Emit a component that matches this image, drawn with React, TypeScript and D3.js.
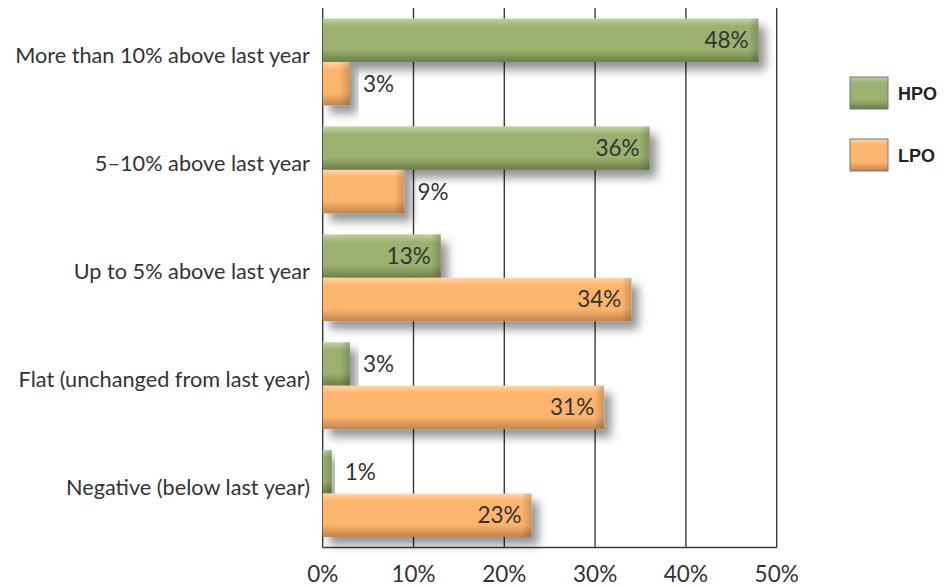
import React from "react";
import * as d3 from "d3";

const categories = [
  "More than 10% above last year",
  "5–10% above last year",
  "Up to 5% above last year",
  "Flat (unchanged from last year)",
  "Negative (below last year)",
];
const seriesNames = ["HPO", "LPO"];
const hpoValues = [48, 36, 13, 3, 1];
const lpoValues = [3, 9, 34, 31, 23];
const xTicks = [0, 10, 20, 30, 40, 50];

const W = 946;
const H = 587;
const M = { left: 322.7, right: 946 - 776.7, top: 8, bottom: 587 - 547.5 };

const palettes = {
  HPO: { light: "#c3d1a3", main: "#9cb070", dark: "#6c7d47" },
  LPO: { light: "#fed5aa", main: "#fdb46c", dark: "#c0844e" },
};

export default function App() {
  const x = d3.scaleLinear().domain([0, 50]).range([M.left, W - M.right]);
  const y = d3
    .scaleBand<string>()
    .domain(categories)
    .range([M.top, H - M.bottom])
    .paddingInner(0.195)
    .paddingOuter(0.0975);
  const inner = d3
    .scaleBand<string>()
    .domain(seriesNames)
    .range([0, y.bandwidth()])
    .padding(0);

  const data = categories.map((c, i) => ({
    cat: c,
    vals: [
      { s: "HPO", v: hpoValues[i] },
      { s: "LPO", v: lpoValues[i] },
    ],
  }));

  const font = "Lato, Roboto, sans-serif";
  const textColor = "#333";

  return (
    <svg
      width={W}
      height={H}
      style={{ position: "absolute", left: 0, top: 0, background: "#fff" }}
    >
      <defs>
        <filter id="shadow" x="-10%" y="-40%" width="140%" height="200%">
          <feDropShadow dx="7" dy="8" stdDeviation="5" floodColor="#000" floodOpacity="0.42" />
        </filter>
        {seriesNames.map((s) => {
          const p = (palettes as any)[s];
          return (
            <linearGradient key={s} id={`grad-${s}`} x1="0" y1="0" x2="0" y2="1">
              <stop offset="0%" stopColor={p.light} />
              <stop offset="18%" stopColor={p.main} />
              <stop offset="72%" stopColor={p.main} />
              <stop offset="100%" stopColor={p.dark} />
            </linearGradient>
          );
        })}
        <linearGradient id="endShade" x1="0" y1="0" x2="1" y2="0">
          <stop offset="0%" stopColor="#000" stopOpacity="0" />
          <stop offset="100%" stopColor="#000" stopOpacity="0.18" />
        </linearGradient>
      </defs>

      {/* gridlines */}
      {xTicks.map((t) => (
        <line
          key={t}
          x1={x(t)}
          x2={x(t)}
          y1={M.top}
          y2={H - M.bottom}
          stroke="#3a3a3a"
          strokeWidth={1.4}
        />
      ))}
      <line
        x1={x(0)}
        x2={x(50)}
        y1={H - M.bottom}
        y2={H - M.bottom}
        stroke="#3a3a3a"
        strokeWidth={1.4}
      />

      {/* tick labels */}
      {xTicks.map((t) => (
        <text
          key={t}
          x={x(t)}
          y={582}
          textAnchor="middle"
          fontFamily={font}
          fontSize={22.5}
          fill={textColor}
        >
          {t}%
        </text>
      ))}

      {/* bars */}
      {data.map((d) => (
        <g key={d.cat} transform={`translate(0,${y(d.cat)})`}>
          {d.vals.map((b) => {
            const by = inner(b.s)!;
            const bh = inner.bandwidth();
            const bw = x(b.v) - x(0);
            return (
              <g key={b.s}>
                <rect
                  x={x(0)}
                  y={by}
                  width={bw}
                  height={bh}
                  fill={`url(#grad-${b.s})`}
                  filter="url(#shadow)"
                />
                <rect
                  x={x(0) + Math.max(0, bw - 10)}
                  y={by}
                  width={Math.min(10, bw)}
                  height={bh}
                  fill="url(#endShade)"
                />
              </g>
            );
          })}
          {d.vals.map((b) => {
            const by = inner(b.s)!;
            const bh = inner.bandwidth();
            const inside = b.v >= 10;
            return (
              <text
                key={b.s + "l"}
                x={inside ? x(b.v) - 10 : x(b.v) + 13}
                y={by + bh / 2 + 8}
                textAnchor={inside ? "end" : "start"}
                fontFamily={font}
                fontSize={22.5}
                fill={textColor}
              >
                {b.v}%
              </text>
            );
          })}
          <text
            x={310}
            y={y.bandwidth() / 2 + 1.5}
            textAnchor="end"
            fontFamily={font}
            fontSize={21.7}
            fill={textColor}
          >
            {d.cat}
          </text>
        </g>
      ))}

      {/* legend */}
      {seriesNames.map((s, i) => (
        <g key={s} transform={`translate(850,${77 + i * 62})`}>
          <rect
            width={38}
            height={32}
            fill={`url(#grad-${s})`}
            stroke="#777"
            strokeWidth={1}
          />
          <text
            x={48}
            y={23}
            fontFamily="'Liberation Sans', Arial, sans-serif"
            fontWeight="bold"
            fontSize={18}
            fill="#222"
          >
            {s}
          </text>
        </g>
      ))}
    </svg>
  );
}
